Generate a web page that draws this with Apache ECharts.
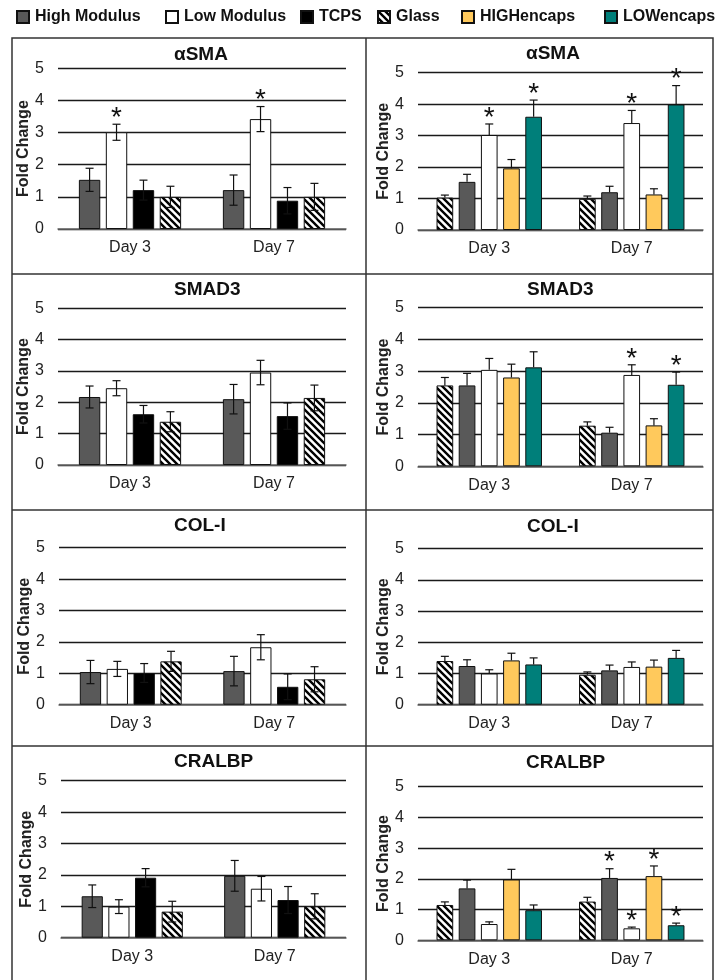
<!DOCTYPE html>
<html><head><meta charset="utf-8">
<script src="https://cdn.jsdelivr.net/npm/echarts@6/dist/echarts.min.js"></script>
<style>html,body{margin:0;padding:0;background:#fff}#c{width:716px;height:980px}</style>
</head><body><div id="c"></div>
<script>
// ---------- data ----------
const days = ['Day 3', 'Day 7'];
const yTicks = [0, 1, 2, 3, 4, 5];
const leftGroups = ['High Modulus', 'Low Modulus', 'TCPS', 'Glass'];
const rightGroups = ['Glass', 'High Modulus', 'Low Modulus', 'HIGHencaps', 'LOWencaps'];
const legendOrder = ['High Modulus', 'Low Modulus', 'TCPS', 'Glass', 'HIGHencaps', 'LOWencaps'];
const geneTitles = ['αSMA', 'SMAD3', 'COL-I', 'CRALBP'];

// left column (rows = leftGroups, cols = days)
const smaLeftMean = [[1.53, 1.21], [3.01, 3.42], [1.21, 0.88], [1.00, 1.00]];
const smaLeftErr  = [[0.36, 0.47], [0.25, 0.39], [0.31, 0.41], [0.33, 0.42]];
const smaLeftStar = [[0, 0], [1, 1], [0, 0], [0, 0]];

const smadLeftMean = [[2.17, 2.10], [2.45, 2.95], [1.62, 1.56], [1.38, 2.14]];
const smadLeftErr  = [[0.35, 0.47], [0.24, 0.39], [0.28, 0.42], [0.32, 0.41]];
const smadLeftStar = [[0, 0], [0, 0], [0, 0], [0, 0]];

const colLeftMean = [[1.04, 1.07], [1.14, 1.83], [1.01, 0.57], [1.38, 0.81]];
const colLeftErr  = [[0.37, 0.47], [0.24, 0.40], [0.30, 0.41], [0.32, 0.40]];
const colLeftStar = [[0, 0], [0, 0], [0, 0], [0, 0]];

const cralLeftMean = [[1.32, 1.97], [0.99, 1.56], [1.91, 1.20], [0.83, 1.00]];
const cralLeftErr  = [[0.36, 0.49], [0.22, 0.39], [0.29, 0.43], [0.33, 0.40]];
const cralLeftStar = [[0, 0], [0, 0], [0, 0], [0, 0]];

// right column (rows = rightGroups, cols = days)
const smaRightMean = [[1.03, 0.99], [1.53, 1.20], [3.02, 3.40], [1.96, 1.13], [3.60, 3.99]];
const smaRightErr  = [[0.08, 0.09], [0.24, 0.19], [0.35, 0.40], [0.28, 0.18], [0.53, 0.60]];
const smaRightStar = [[0, 0], [0, 0], [1, 1], [0, 0], [1, 1]];

const smadRightMean = [[2.55, 1.28], [2.55, 1.06], [3.04, 2.88], [2.80, 1.29], [3.12, 2.57]];
const smadRightErr  = [[0.25, 0.12], [0.38, 0.17], [0.36, 0.32], [0.42, 0.21], [0.49, 0.40]];
const smadRightStar = [[0, 0], [0, 0], [0, 1], [0, 0], [0, 1]];

const colRightMean = [[1.40, 0.96], [1.24, 1.10], [1.00, 1.21], [1.42, 1.22], [1.29, 1.50]];
const colRightErr  = [[0.15, 0.09], [0.20, 0.17], [0.12, 0.16], [0.23, 0.21], [0.21, 0.24]];
const colRightStar = [[0, 0], [0, 0], [0, 0], [0, 0], [0, 0]];

const cralRightMean = [[1.15, 1.26], [1.69, 2.03], [0.53, 0.39], [1.98, 2.09], [0.98, 0.49]];
const cralRightErr  = [[0.10, 0.14], [0.27, 0.30], [0.07, 0.04], [0.33, 0.33], [0.17, 0.07]];
const cralRightStar = [[0, 0], [0, 1], [0, 1], [0, 1], [0, 1]];

// ---------- layout ----------
// [left, rightMargin, top(y=5), bottom(y=0)]
const gridBoxes = [
  [58, 370, 68.3, 229], [58, 370, 308.3, 465], [59, 370, 547.7, 704.7], [61, 370, 780.7, 937.7],
  [418, 13, 72.7, 230], [418, 13, 307.7, 466.3], [418, 13, 548.7, 704.7], [418, 13, 786.7, 940.3]
];
const titlePos = [[174, 55], [174, 290], [174, 526], [174, 762], [526, 54], [527, 290], [527, 527], [526, 763]];
const legendX = [16, 165, 300, 377, 461, 604];

const FONT = '"Liberation Sans", Arial, sans-serif';

function hatchCanvas() {
  const s = 7;
  const c = document.createElement('canvas'); c.width = s; c.height = s;
  const x = c.getContext('2d');
  x.fillStyle = '#fff'; x.fillRect(0, 0, s, s);
  x.strokeStyle = '#000'; x.lineWidth = 2.4;
  x.beginPath();
  x.moveTo(-2, -2); x.lineTo(s + 2, s + 2);
  x.moveTo(-2, s - 2); x.lineTo(2, s + 2);
  x.moveTo(s - 2, -2); x.lineTo(s + 2, 2);
  x.stroke();
  return c;
}
const hatch = { image: hatchCanvas(), repeat: 'repeat' };
const fills = {
  'High Modulus': '#595959',
  'Low Modulus': '#ffffff',
  'TCPS': '#000000',
  'Glass': hatch,
  'HIGHencaps': '#FFC95C',
  'LOWencaps': '#007F7A'
};

const panels = [
  { side: 'L', gene: 0, mean: smaLeftMean, err: smaLeftErr, star: smaLeftStar },
  { side: 'L', gene: 1, mean: smadLeftMean, err: smadLeftErr, star: smadLeftStar },
  { side: 'L', gene: 2, mean: colLeftMean, err: colLeftErr, star: colLeftStar },
  { side: 'L', gene: 3, mean: cralLeftMean, err: cralLeftErr, star: cralLeftStar },
  { side: 'R', gene: 0, mean: smaRightMean, err: smaRightErr, star: smaRightStar },
  { side: 'R', gene: 1, mean: smadRightMean, err: smadRightErr, star: smadRightStar },
  { side: 'R', gene: 2, mean: colRightMean, err: colRightErr, star: colRightStar },
  { side: 'R', gene: 3, mean: cralRightMean, err: cralRightErr, star: cralRightStar }
];

const grids = [], xAxes = [], yAxes = [], series = [], titles = [];
panels.forEach((p, gi) => {
  const b = gridBoxes[gi];
  const groups = p.side === 'L' ? leftGroups : rightGroups;
  const catGap = p.side === 'L' ? 0.29 : 0.26;
  const barGap = p.side === 'L' ? 0.26 : 0.33;
  grids.push({ left: b[0], right: b[1], top: b[2], height: b[3] - b[2], containLabel: false });
  xAxes.push({
    type: 'category', gridIndex: gi, data: days,
    axisTick: { show: false },
    axisLine: { show: true, lineStyle: { color: '#6a6a6a', width: 1.5 } },
    axisLabel: { fontSize: 16, color: '#222', margin: 11, fontFamily: FONT }
  });
  yAxes.push({
    type: 'value', gridIndex: gi, min: yTicks[0], max: yTicks[yTicks.length - 1], interval: 1,
    axisLine: { show: false }, axisTick: { show: false },
    axisLabel: { fontSize: 16, color: '#222', margin: 14, fontFamily: FONT },
    splitLine: { show: true, lineStyle: { color: '#1a1a1a', width: 1.4 } },
    name: 'Fold Change', nameLocation: 'middle', nameRotate: 90, nameGap: 20,
    nameTextStyle: { fontSize: 16, fontWeight: 'bold', color: '#222', fontFamily: FONT }
  });
  titles.push({
    text: geneTitles[p.gene], left: titlePos[gi][0], top: titlePos[gi][1] - 11, padding: 0,
    textStyle: { fontSize: 19, fontWeight: 'bold', color: '#111', fontFamily: FONT, lineHeight: 22 }
  });
  groups.forEach((g, si) => {
    series.push({
      type: 'bar', name: g, xAxisIndex: gi, yAxisIndex: gi, data: p.mean[si],
      barGap: (barGap * 100) + '%', barCategoryGap: (catGap * 100) + '%',
      itemStyle: { color: fills[g], borderColor: '#111', borderWidth: 1 },
      silent: true, animation: false
    });
  });
  const edata = [];
  groups.forEach((g, si) => days.forEach((d, di) => {
    edata.push([di, p.mean[si][di], p.err[si][di], p.star[si][di], si]);
  }));
  const twoSided = p.side === 'L';
  const n = groups.length;
  series.push({
    type: 'custom', xAxisIndex: gi, yAxisIndex: gi, silent: true, animation: false, z: 5,
    encode: { x: 0, y: 1 },
    data: edata,
    renderItem: function (params, api) {
      const di = api.value(0), v = api.value(1), e = api.value(2), st = api.value(3), si = api.value(4);
      const band = api.size([1, 0])[0];
      const groupW = band * (1 - catGap);
      const w = groupW / (n + (n - 1) * barGap);
      const c = api.coord([di, v]);
      const x = c[0] - groupW / 2 + si * w * (1 + barGap) + w / 2;
      const yTop = api.coord([di, v + e])[1];
      const yBot = twoSided ? api.coord([di, v - e])[1] : c[1];
      const cap = 4;
      const ls = { stroke: '#111', lineWidth: 1.2 };
      const ch = [
        { type: 'line', shape: { x1: x, y1: yTop, x2: x, y2: yBot }, style: ls },
        { type: 'line', shape: { x1: x - cap, y1: yTop, x2: x + cap, y2: yTop }, style: ls }
      ];
      if (twoSided) ch.push({ type: 'line', shape: { x1: x - cap, y1: yBot, x2: x + cap, y2: yBot }, style: ls });
      if (st) ch.push({
        type: 'text', style: {
          text: '*', x: x, y: yTop - 6, align: 'center', verticalAlign: 'middle',
          font: '28px ' + FONT, fill: '#111'
        }
      });
      return { type: 'group', children: ch };
    }
  });
});

const legends = legendOrder.map((name, i) => ({
  data: [name], left: legendX[i], top: 9, padding: 0,
  itemWidth: 12, itemHeight: 12, icon: 'rect', itemGap: 0,
  textStyle: { fontSize: 16, fontWeight: 'bold', color: '#111', fontFamily: FONT, padding: [0, 0, 0, 1] },
  selectedMode: false
}));

const lineStyle = { stroke: '#333', lineWidth: 1.5 };
const graphic = [
  { type: 'rect', shape: { x: 12, y: 38, width: 701, height: 960 }, style: { fill: 'none', stroke: '#333', lineWidth: 1.5 }, silent: true },
  { type: 'line', shape: { x1: 366, y1: 38, x2: 366, y2: 990 }, style: lineStyle, silent: true },
  { type: 'line', shape: { x1: 12, y1: 274, x2: 713, y2: 274 }, style: lineStyle, silent: true },
  { type: 'line', shape: { x1: 12, y1: 510, x2: 713, y2: 510 }, style: lineStyle, silent: true },
  { type: 'line', shape: { x1: 12, y1: 746, x2: 713, y2: 746 }, style: lineStyle, silent: true }
];

const chart = echarts.init(document.getElementById('c'), null, { renderer: 'canvas' });
chart.setOption({
  animation: false,
  backgroundColor: '#fff',
  title: titles,
  legend: legends,
  grid: grids, xAxis: xAxes, yAxis: yAxes,
  series: series,
  graphic: graphic
});
</script>
</body></html>
